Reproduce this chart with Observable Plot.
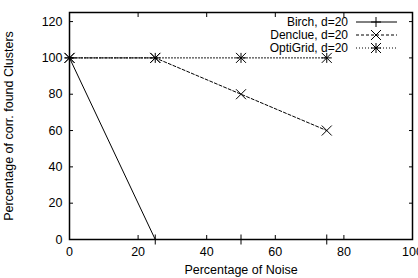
<!DOCTYPE html>
<html>
<head>
<meta charset="utf-8">
<script src="https://cdn.jsdelivr.net/npm/d3@7"></script>
<script src="https://cdn.jsdelivr.net/npm/@observablehq/plot@0.6"></script>
<style>
  html, body { margin: 0; padding: 0; background: #fff; }
</style>
</head>
<body>
<div id="chart"></div>
<script>
// ---- data ----
const noise = [0, 25, 50, 75];
const birch = [100, 0, 0, 0];
const denclue = [100, 100, 80, 60];
const optigrid = [100, 100, 100, 100];
const seriesNames = ["Birch, d=20", "Denclue, d=20", "OptiGrid, d=20"];
const xTicks = [0, 20, 40, 60, 80, 100];
const yTicks = [0, 20, 40, 60, 80, 100, 120];
const xLabel = "Percentage of Noise";
const yLabel = "Percentage of corr. found Clusters";

const seriesValues = [birch, denclue, optigrid];
const rows = seriesValues.map((vals, i) => noise.map((x, j) => ({series: seriesNames[i], x, y: vals[j]})));

// custom gnuplot-like point symbols
const H = 5;
const plusSym = {draw(c) { c.moveTo(-H, 0); c.lineTo(H, 0); c.moveTo(0, -H); c.lineTo(0, H); }};
const timesSym = {draw(c) { c.moveTo(-H, -H); c.lineTo(H, H); c.moveTo(-H, H); c.lineTo(H, -H); }};
const dashes = [null, "3,2", "1,2"];
const symSets = [[plusSym], [timesSym], [plusSym, timesSym]];

const font = "'Liberation Sans', Arial, Helvetica, sans-serif";
const fontSize = 12.5;
const blank = () => "";

const marks = [];
rows.forEach((r, i) => {
  marks.push(Plot.line(r, {x: "x", y: "y", stroke: "#000", strokeWidth: 1, strokeDasharray: dashes[i]}));
});
rows.forEach((r, i) => {
  symSets[i].forEach(s => marks.push(Plot.dot(r, {x: "x", y: "y", symbol: s, stroke: "#000", strokeWidth: 1, r: 3})));
});

const svg = Plot.plot({
  width: 418,
  height: 278,
  marginLeft: 69,
  marginRight: 6,
  marginTop: 12,
  marginBottom: 39,
  style: {fontFamily: font, fontSize: fontSize + "px", color: "#000", background: "#fff"},
  x: {domain: [0, 100]},
  y: {domain: [0, 125]},
  marks: [
    Plot.axisX(xTicks, {anchor: "bottom", tickSize: -4, tickFormat: blank, label: null, strokeWidth: 1}),
    Plot.axisX(xTicks, {anchor: "top", tickSize: -4, tickFormat: blank, label: null, strokeWidth: 1}),
    Plot.axisY(yTicks, {anchor: "left", tickSize: -4, tickFormat: blank, label: null, strokeWidth: 1}),
    Plot.axisY(yTicks, {anchor: "right", tickSize: -4, tickFormat: blank, label: null, strokeWidth: 1}),
    Plot.axisX(xTicks, {anchor: "bottom", tickSize: 0, tickPadding: 8, label: xLabel, labelAnchor: "center", labelArrow: "none", labelOffset: 34}),
    Plot.axisY(yTicks, {anchor: "left", tickSize: 0, tickPadding: 7, label: yLabel, labelAnchor: "center", labelArrow: "none", labelOffset: 65}),
    ...marks,
    Plot.frame({stroke: "#000", strokeWidth: 1.5})
  ]
});

// legend (top-right, inside plot area), gnuplot style
const legendFont = 12;
const lg = d3.select(svg).append("g").attr("font-family", font).attr("font-size", legendFont);
const rowY = [22, 35, 48];
seriesNames.forEach((name, i) => {
  const y = rowY[i];
  lg.append("text").attr("x", 348).attr("y", y).attr("dy", "0.35em").attr("text-anchor", "end").attr("fill", "#000").text(name);
  lg.append("line").attr("x1", 356).attr("x2", 397).attr("y1", y).attr("y2", y)
    .attr("stroke", "#000").attr("stroke-width", 1).attr("stroke-dasharray", dashes[i]);
  symSets[i].forEach(s => {
    lg.append("path").attr("d", d3.symbol(s)()).attr("transform", `translate(376,${y})`)
      .attr("fill", "none").attr("stroke", "#000").attr("stroke-width", 1);
  });
});

document.getElementById("chart").appendChild(svg);
</script>
</body>
</html>
